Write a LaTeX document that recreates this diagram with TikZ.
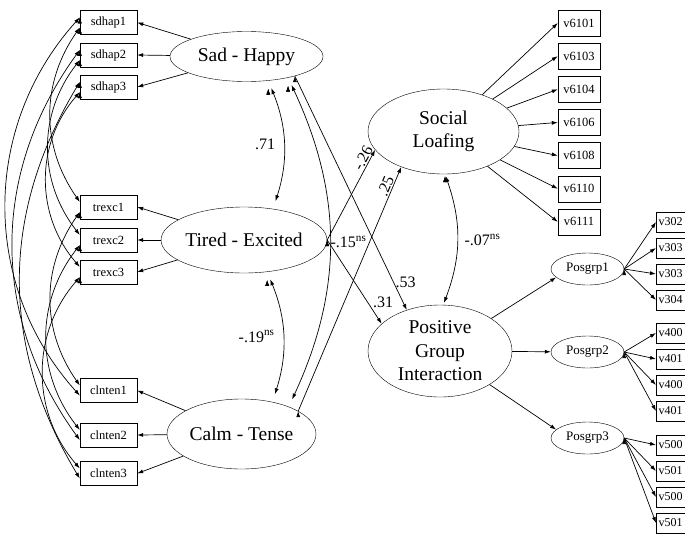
\documentclass[tikz,border=0pt]{standalone}
\usepackage{fontspec}
\setmainfont{Liberation Serif}
\usetikzlibrary{shapes,arrows.meta}
\usetikzlibrary{positioning}

\begin{document}
\begin{tikzpicture}[x=1pt,y=-1pt]
\tikzset{myBig/.style={font=\fontsize{19.5}{23.5}\selectfont}}
\tikzset{mySmall/.style={font=\fontsize{12.5}{14}\selectfont}}
\tikzset{myNum/.style={font=\fontsize{16}{18}\selectfont,inner sep=2pt}}
\tikzset{myLatent/.style={draw,ellipse,inner sep=0pt,align=center,myBig}}
\tikzset{myFactor/.style={draw,ellipse,inner sep=0pt,minimum width=73pt,minimum height=32pt,font=\fontsize{13}{15}\selectfont}}
\tikzset{myBox/.style={draw,inner sep=0pt,minimum width=57pt,minimum height=24pt,mySmall}}
\tikzset{myItem/.style={draw,inner sep=0pt,minimum width=42pt,minimum height=26pt,mySmall}}
\tikzset{myCut/.style={draw,anchor=west,inner xsep=2.5pt,inner ysep=0pt,minimum height=20pt,text width=36pt,align=left,font=\fontsize{12}{14}\selectfont}}
\tikzset{myPath/.style={draw,line width=0.7pt,-{Latex[length=6pt,width=4pt]}}}
\tikzset{myCorr/.style={draw,line width=0.7pt,{Latex[length=6pt,width=4pt]}-{Latex[length=6pt,width=4pt]}}}

\path[use as bounding box,clip] (0,0) rectangle (685,536);

% latent factors
\node[myLatent,minimum width=153pt,minimum height=50pt] (sadHappy) at (246.5,56.5) {Sad - Happy};
\node[myLatent,minimum width=144pt,minimum height=66pt] (tiredExcited) at (244,240) {Tired - Excited};
\node[myLatent,minimum width=149pt,minimum height=70pt] (calmTense) at (241.5,434) {Calm - Tense};
\node[myLatent,minimum width=151pt,minimum height=85pt] (socLoaf) at (443.5,131.5) {Social\\Loafing};
\node[myLatent,minimum width=144pt,minimum height=92pt] (posGroup) at (440,351) {Positive\\Group\\Interaction};

% mood items
\node[myBox] (sdhap1) at (108.5,22.5) {sdhap1};
\node[myBox] (sdhap2) at (108.5,55) {sdhap2};
\node[myBox] (sdhap3) at (108.5,87) {sdhap3};
\node[myBox] (trexc1) at (108.5,207) {trexc1};
\node[myBox] (trexc2) at (108.5,240) {trexc2};
\node[myBox] (trexc3) at (108.5,272) {trexc3};
\node[myBox] (clnten1) at (108.5,390.5) {clnten1};
\node[myBox] (clnten2) at (108.5,435) {clnten2};
\node[myBox] (clnten3) at (108.5,473.5) {clnten3};

% loafing items
\node[myItem] (v6101) at (579,23) {v6101};
\node[myItem,below=6.75pt of v6101] (v6103) {v6103};
\node[myItem,below=6.75pt of v6103] (v6104) {v6104};
\node[myItem,below=6.75pt of v6104] (v6106) {v6106};
\node[myItem,below=6.75pt of v6106] (v6108) {v6108};
\node[myItem,below=6.75pt of v6108] (v6110) {v6110};
\node[myItem,below=6.75pt of v6110] (v6111) {v6111};

% group factors and their items
\node[myFactor] (posgrp1) at (587.5,269) {Posgrp1};
\node[myFactor] (posgrp2) at (587.5,352) {Posgrp2};
\node[myFactor] (posgrp3) at (587.5,438) {Posgrp3};

\node[myCut] (v302) at (656,222) {v302};
\node[myCut] (v303a) at (656,248) {v303};
\node[myCut] (v303b) at (656,274) {v303};
\node[myCut] (v304) at (656,300) {v304};
\node[myCut] (v400a) at (656,333) {v400};
\node[myCut] (v401a) at (656,359) {v401};
\node[myCut] (v400b) at (656,385) {v400};
\node[myCut] (v401b) at (656,411) {v401};
\node[myCut] (v500a) at (656,445) {v500};
\node[myCut] (v501a) at (656,471) {v501};
\node[myCut] (v500b) at (656,497) {v500};
\node[myCut] (v501b) at (656,523) {v501};

% loadings
\path[myPath] (sadHappy) edge (sdhap1.east) edge (sdhap2.east) edge (sdhap3.east);
\path[myPath] (tiredExcited) edge (trexc1.east) edge (trexc2.east) edge (trexc3.east);
\path[myPath] (calmTense) edge (clnten1.east) edge (clnten2.east) edge (clnten3.east);
\path[myPath] (socLoaf) edge (v6101.west) edge (v6103.west) edge (v6104.west) edge (v6106.west)
  edge (v6108.west) edge (v6110.west) edge (v6111.west);
\path[myPath] (posGroup) edge (posgrp1.195) edge (posgrp2) edge (posgrp3.165);
\path[myPath] (posgrp1.east) edge (v302.west) edge (v303a.west) edge (v303b.west) edge (v304.west);
\path[myPath] (posgrp2.east) edge (v400a.west) edge (v401a.west) edge (v400b.west) edge (v401b.west);
\path[myPath] (posgrp3.east) edge (v500a.west) edge (v501a.west) edge (v500b.west) edge (v501b.west);

% structural paths
\path[myPath] (tiredExcited.east) edge node[pos=0.87,sloped,above,myNum,inner sep=1pt] {-.26} (socLoaf.195);
\path[myPath] (calmTense.22) edge node[pos=0.91,sloped,above,myNum,inner sep=1pt] {.25} (socLoaf.220);
\path[myPath] (sadHappy.-22) edge node[pos=0.88,right,myNum] {.53} (posGroup.129);
\path[myPath] (tiredExcited.east) edge node[pos=0.82,above right,myNum,inner sep=1pt] {.31} (posGroup.155);

% factor correlations
\path[myCorr,shorten >=8pt,shorten <=8pt] (sadHappy.-48) edge[bend left=20] node[left=6pt,myNum] {.71} (tiredExcited.47);
\path[myCorr,shorten >=8pt,shorten <=8pt] (tiredExcited.-54) edge[bend left=20] node[left=6pt,myNum] {-.19\textsuperscript{ns}} (calmTense.46);
\path[myCorr,shorten >=8pt,shorten <=8pt] (sadHappy.-27) edge[bend left=25] node[right,myNum,inner sep=1pt] {-.15\textsuperscript{ns}} (calmTense.30);
\path[myCorr,shorten >=2pt,shorten <=2pt] (socLoaf.-88) edge[bend left=20] node[right=5pt,myNum] {-.07\textsuperscript{ns}} (posGroup.86);

% correlated errors
\path[myCorr] (sdhap1.170) edge[bend right=42] (clnten1.190);
\path[myCorr] (sdhap2.170) edge[bend right=36] (clnten2.190);
\path[myCorr] (sdhap3.170) edge[bend right=31] (clnten3.190);
\path[myCorr] (sdhap1.190) edge[bend right=35] (trexc1.170);
\path[myCorr] (sdhap2.190) edge[bend right=38] (trexc2.170);
\path[myCorr] (sdhap3.190) edge[bend right=41] (trexc3.170);
\path[myCorr] (trexc1.190) edge[bend right=35] (clnten1.170);
\path[myCorr] (trexc2.190) edge[bend right=38] (clnten2.170);
\path[myCorr] (trexc3.190) edge[bend right=41] (clnten3.170);

\end{tikzpicture}
\end{document}
